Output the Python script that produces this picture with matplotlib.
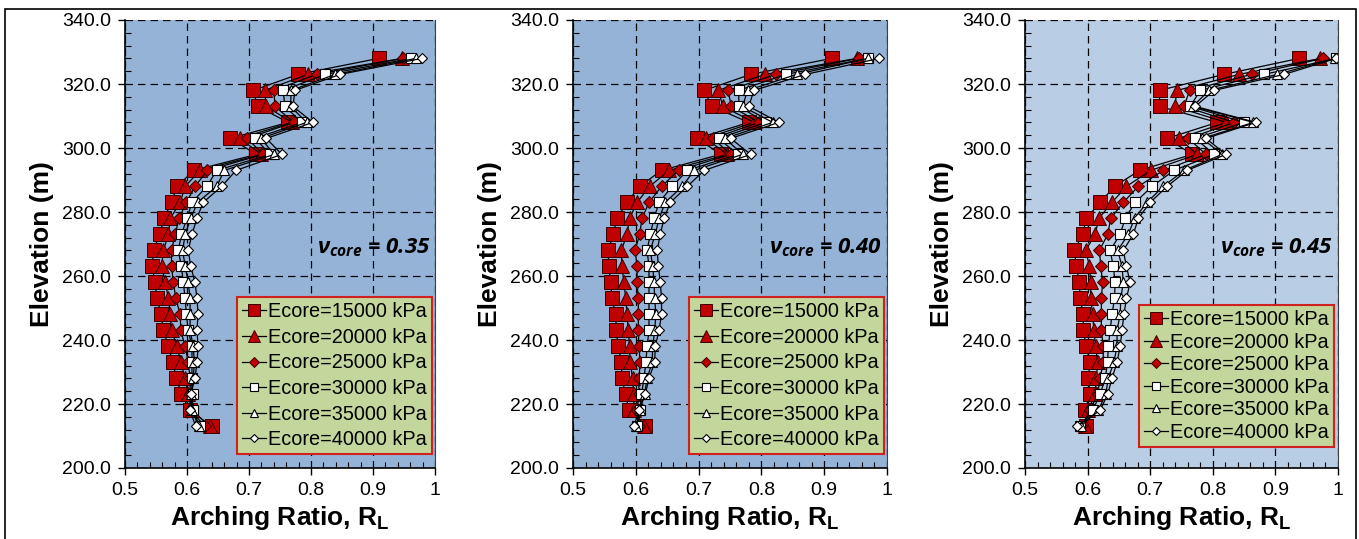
import matplotlib
matplotlib.use('Agg')
import matplotlib.pyplot as plt
from matplotlib.ticker import MultipleLocator, FuncFormatter
from matplotlib.patches import Rectangle

plt.rcParams['font.family'] = ['Liberation Sans', 'DejaVu Sans']
plt.rcParams['mathtext.fontset'] = 'custom'
plt.rcParams['mathtext.it'] = 'Open Sans:italic:bold'
plt.rcParams['mathtext.rm'] = 'Liberation Sans:bold'
plt.rcParams['mathtext.bf'] = 'Liberation Sans:bold'

# Elevaciones (m), de abajo hacia arriba
elevation = [213, 218, 223, 228, 233, 238, 243, 248, 253, 258, 263, 268,
             273, 278, 283, 288, 293, 298, 303, 308, 313, 318, 323, 328]

series_labels = ['Ecore=15000 kPa', 'Ecore=20000 kPa', 'Ecore=25000 kPa',
                 'Ecore=30000 kPa', 'Ecore=35000 kPa', 'Ecore=40000 kPa']
nu_labels = ['0.35', '0.40', '0.45']

# nu_core = 0.35
rl_035_e15 = [0.640, 0.605, 0.591, 0.583, 0.577, 0.570, 0.562, 0.558, 0.552, 0.548, 0.544, 0.546,
              0.556, 0.563, 0.575, 0.584, 0.611, 0.712, 0.670, 0.763, 0.714, 0.707, 0.779, 0.909]
rl_035_e20 = [0.637, 0.608, 0.602, 0.597, 0.590, 0.584, 0.575, 0.573, 0.570, 0.565, 0.559, 0.562,
              0.570, 0.573, 0.589, 0.597, 0.621, 0.720, 0.685, 0.769, 0.728, 0.725, 0.795, 0.947]
rl_035_e25 = [0.629, 0.606, 0.605, 0.605, 0.602, 0.597, 0.590, 0.589, 0.582, 0.578, 0.575, 0.575,
              0.581, 0.587, 0.599, 0.613, 0.633, 0.723, 0.697, 0.772, 0.742, 0.740, 0.809, 0.949]
rl_035_e30 = [0.621, 0.609, 0.609, 0.608, 0.608, 0.608, 0.602, 0.599, 0.597, 0.594, 0.591, 0.586,
              0.591, 0.600, 0.608, 0.632, 0.648, 0.734, 0.710, 0.785, 0.758, 0.755, 0.823, 0.962]
rl_035_e35 = [0.619, 0.608, 0.606, 0.610, 0.612, 0.610, 0.605, 0.605, 0.605, 0.602, 0.597, 0.593,
              0.597, 0.606, 0.617, 0.648, 0.660, 0.741, 0.719, 0.793, 0.767, 0.768, 0.839, 0.969]
rl_035_e40 = [0.614, 0.605, 0.606, 0.613, 0.616, 0.618, 0.616, 0.618, 0.616, 0.613, 0.606, 0.602,
              0.608, 0.616, 0.626, 0.656, 0.679, 0.753, 0.728, 0.803, 0.771, 0.774, 0.847, 0.979]

# nu_core = 0.40
rl_040_e15 = [0.614, 0.589, 0.584, 0.578, 0.577, 0.572, 0.569, 0.568, 0.562, 0.560, 0.557, 0.556,
              0.564, 0.570, 0.586, 0.606, 0.641, 0.735, 0.698, 0.780, 0.721, 0.709, 0.783, 0.912]
rl_040_e20 = [0.613, 0.597, 0.597, 0.595, 0.591, 0.590, 0.588, 0.586, 0.584, 0.581, 0.578, 0.577,
              0.586, 0.590, 0.602, 0.622, 0.653, 0.746, 0.711, 0.788, 0.739, 0.731, 0.806, 0.952]
rl_040_e25 = [0.605, 0.602, 0.605, 0.605, 0.607, 0.605, 0.604, 0.604, 0.604, 0.602, 0.602, 0.599,
              0.606, 0.610, 0.621, 0.641, 0.668, 0.751, 0.723, 0.796, 0.752, 0.747, 0.823, 0.955]
rl_040_e30 = [0.602, 0.607, 0.609, 0.613, 0.616, 0.618, 0.621, 0.621, 0.621, 0.621, 0.621, 0.618,
              0.623, 0.629, 0.637, 0.658, 0.682, 0.762, 0.732, 0.807, 0.764, 0.764, 0.839, 0.969]
rl_040_e35 = [0.601, 0.606, 0.614, 0.618, 0.626, 0.627, 0.630, 0.632, 0.630, 0.629, 0.627, 0.623,
              0.631, 0.637, 0.647, 0.674, 0.693, 0.770, 0.742, 0.818, 0.770, 0.778, 0.856, 0.970]
rl_040_e40 = [0.597, 0.605, 0.615, 0.621, 0.630, 0.631, 0.637, 0.641, 0.641, 0.639, 0.636, 0.634,
              0.639, 0.645, 0.655, 0.682, 0.709, 0.783, 0.751, 0.828, 0.780, 0.788, 0.870, 0.988]

# nu_core = 0.45
rl_045_e15 = [0.598, 0.596, 0.604, 0.601, 0.604, 0.598, 0.593, 0.593, 0.588, 0.587, 0.582, 0.579,
              0.592, 0.598, 0.620, 0.643, 0.683, 0.767, 0.727, 0.807, 0.715, 0.715, 0.818, 0.938]
rl_045_e20 = [0.596, 0.601, 0.612, 0.614, 0.616, 0.613, 0.610, 0.608, 0.605, 0.605, 0.603, 0.597,
              0.612, 0.618, 0.639, 0.662, 0.701, 0.775, 0.746, 0.821, 0.739, 0.743, 0.842, 0.972]
rl_045_e25 = [0.590, 0.604, 0.616, 0.620, 0.625, 0.625, 0.622, 0.622, 0.622, 0.624, 0.621, 0.619,
              0.632, 0.637, 0.657, 0.681, 0.721, 0.789, 0.761, 0.834, 0.754, 0.763, 0.862, 0.976]
rl_045_e30 = [0.588, 0.608, 0.620, 0.628, 0.632, 0.633, 0.636, 0.639, 0.643, 0.644, 0.641, 0.636,
              0.652, 0.660, 0.676, 0.703, 0.738, 0.802, 0.772, 0.850, 0.764, 0.780, 0.882, 0.997]
rl_045_e35 = [0.589, 0.617, 0.629, 0.633, 0.642, 0.647, 0.647, 0.652, 0.653, 0.657, 0.655, 0.648,
              0.665, 0.675, 0.695, 0.721, 0.754, 0.815, 0.783, 0.865, 0.768, 0.794, 0.903, 0.995]
rl_045_e40 = [0.583, 0.620, 0.632, 0.639, 0.647, 0.652, 0.655, 0.658, 0.662, 0.668, 0.662, 0.657,
              0.673, 0.681, 0.700, 0.727, 0.759, 0.821, 0.789, 0.869, 0.772, 0.802, 0.914, 0.997]

panels = [
    [rl_035_e15, rl_035_e20, rl_035_e25, rl_035_e30, rl_035_e35, rl_035_e40],
    [rl_040_e15, rl_040_e20, rl_040_e25, rl_040_e30, rl_040_e35, rl_040_e40],
    [rl_045_e15, rl_045_e20, rl_045_e25, rl_045_e30, rl_045_e35, rl_045_e40],
]

# Estilos de marcadores (Excel)
red = '#C00000'
marker_styles = [
    dict(marker='s', ms=10.0, mfc=red, mec='#3A0000', mew=0.7),
    dict(marker='^', ms=10.0, mfc=red, mec='#3A0000', mew=0.7),
    dict(marker='D', ms=6.4, mfc=red, mec='#3A0000', mew=0.7),
    dict(marker='s', ms=7.2, mfc='white', mec='black', mew=0.8),
    dict(marker='^', ms=7.4, mfc='white', mec='black', mew=0.8),
    dict(marker='D', ms=5.0, mfc='white', mec='black', mew=0.8),
]

backgrounds = ['#95B3D7', '#95B3D7', '#B9CDE5']
ax_lefts = [125, 573, 1025]
ax_widths = [310, 314, 313]
legend_boxes = [(0.990, 0.031, 0.33), (0.990, 0.031, 0.33), (0.987, 0.047, 0.18)]

W, H = 1359, 539
fig = plt.figure(figsize=(W / 100, H / 100), dpi=100)
# Marco exterior
fig.patches.append(Rectangle((5 / W, -0.05), (1356 - 5) / W, (H - 9) / H + 0.05,
                             transform=fig.transFigure, fill=False,
                             edgecolor='black', linewidth=1.2))

for i in range(3):
    ax = fig.add_axes([ax_lefts[i] / W, (H - 468) / H, ax_widths[i] / W, 448 / H])
    ax.set_facecolor(backgrounds[i])
    for j in range(6):
        ax.plot(panels[i][j], elevation, color='black', linewidth=0.9,
                label=series_labels[j], **marker_styles[j])

    ax.set_xlim(0.5, 1.0)
    ax.set_ylim(200, 340)
    ax.xaxis.set_major_locator(MultipleLocator(0.1))
    ax.xaxis.set_minor_locator(MultipleLocator(0.02))
    ax.yaxis.set_major_locator(MultipleLocator(20))
    ax.yaxis.set_minor_locator(MultipleLocator(4))
    ax.xaxis.set_major_formatter(FuncFormatter(lambda v, p: '%g' % round(v, 2)))
    ax.yaxis.set_major_formatter(FuncFormatter(lambda v, p: '%.1f' % v))
    ax.tick_params(which='major', direction='out', length=5, width=1, labelsize=14, pad=5)
    ax.tick_params(which='minor', direction='in', length=4, width=0.8)
    ax.grid(which='major', color='black', linestyle=(0, (6, 4)), linewidth=0.9)
    ax.set_axisbelow(True)

    ax.spines['top'].set_visible(False)
    ax.spines['right'].set_color('#404040')
    ax.spines['right'].set_linewidth(0.8)
    ax.spines['left'].set_linewidth(1.2)
    ax.spines['bottom'].set_linewidth(1.2)

    ax.set_xlabel(r'Arching Ratio, R$_{\mathbf{L}}$', fontsize=19, fontweight='bold', labelpad=4)
    ax.set_ylabel('Elevation (m)', fontsize=19, fontweight='bold', labelpad=6)

    ax.text(0.985, 269, r'$\nu_{core}$ = ' + nu_labels[i], transform=ax.get_yaxis_transform(),
            ha='right', va='center', fontsize=16, family='Open Sans',
            fontstyle='italic', fontweight='bold')

    x1, y0, sp = legend_boxes[i]
    leg = ax.legend(loc='lower right', bbox_to_anchor=(x1, y0), borderaxespad=0,
                    fontsize=14.3, fancybox=False, framealpha=1, handlelength=1.2,
                    handletextpad=0.1, labelspacing=sp, borderpad=0.25,
                    markerscale=0.8)
    leg.get_frame().set_facecolor('#C3D69B')
    leg.get_frame().set_edgecolor('#D02020')
    leg.get_frame().set_linewidth(1.5)

fig.savefig('out.png', dpi=100)
